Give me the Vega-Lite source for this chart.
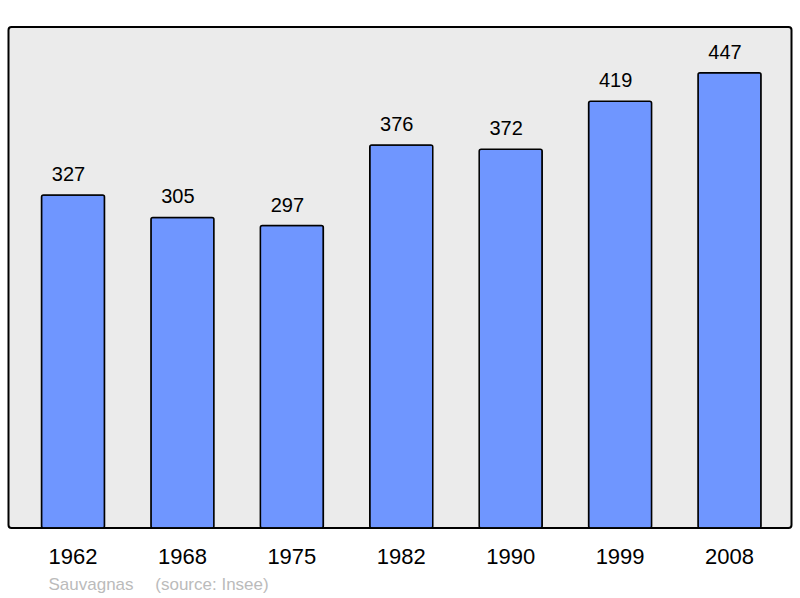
{
  "$schema": "https://vega.github.io/schema/vega-lite/v6.json",
  "autosize": "none",
  "width": 783,
  "height": 501,
  "padding": {"left": 8.5, "top": 27, "right": 8.5, "bottom": 70},
  "background": "white",
  "config": {
    "view": {"fill": "#ebebeb", "stroke": "#000000", "strokeWidth": 2, "cornerRadius": 3},
    "font": "Liberation Sans"
  },
  "data": {
    "values": [
      {"year": "1962", "pop": 327},
      {"year": "1968", "pop": 305},
      {"year": "1975", "pop": 297},
      {"year": "1982", "pop": 376},
      {"year": "1990", "pop": 372},
      {"year": "1999", "pop": 419},
      {"year": "2008", "pop": 447}
    ]
  },
  "title": {
    "text": "Sauvagnas\u00a0\u00a0\u00a0\u00a0\u2006(source: Insee)",
    "orient": "bottom",
    "anchor": "start",
    "dx": 40,
    "offset": 10,
    "fontSize": 17,
    "fontWeight": "normal",
    "color": "#bbbbbb",
    "font": "Liberation Sans"
  },
  "encoding": {
    "x": {
      "field": "year",
      "type": "ordinal",
      "scale": {"paddingInner": 0.424, "paddingOuter": 0.29, "align": 0.52},
      "axis": {
        "title": null,
        "ticks": false,
        "domain": false,
        "labelFontSize": 22,
        "labelColor": "#000000",
        "labelPadding": 18,
        "labelAngle": 0,
        "labelFont": "Liberation Sans"
      }
    },
    "y": {
      "field": "pop",
      "type": "quantitative",
      "scale": {"domain": [0, 492], "nice": false},
      "axis": null
    }
  },
  "layer": [
    {
      "mark": {"type": "bar", "color": "#6f96ff", "stroke": "#000000", "strokeWidth": 1.5, "cornerRadius": 2}
    },
    {
      "mark": {"type": "text", "baseline": "alphabetic", "dy": -14, "dx": -4.5, "fontSize": 20, "color": "#000000", "font": "Liberation Sans"},
      "encoding": {"text": {"field": "pop", "type": "quantitative"}}
    }
  ]
}
